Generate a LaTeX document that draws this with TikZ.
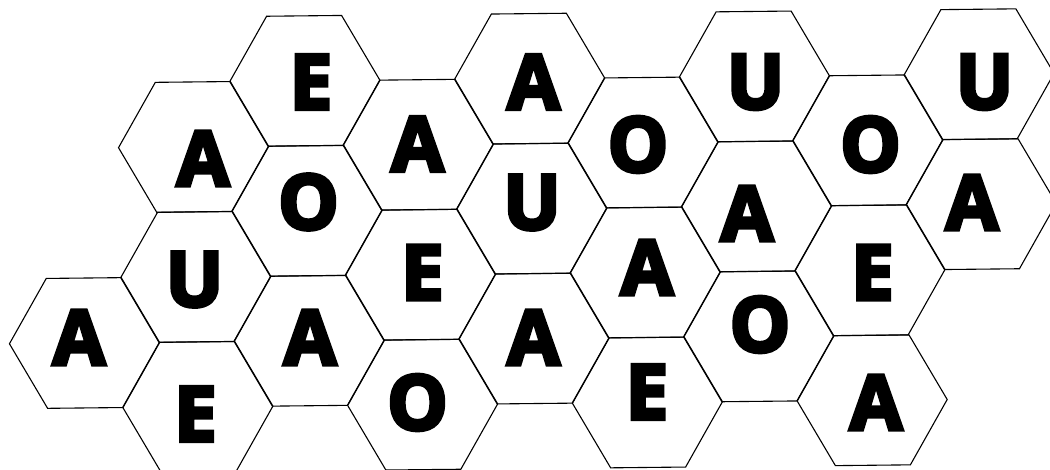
\documentclass[tikz,border=0pt]{standalone}
\usepackage{fontspec}
\newfontfamily\hexfont{Open Sans}[BoldFeatures={FakeBold=5}]
\tikzset{
  hexline/.style={draw=black, line width=1.1pt, line join=miter},
  letter/.style={inner sep=0pt, font=\hexfont\bfseries\fontsize{76}{76}\selectfont, text=black}
}
\begin{document}
\begin{tikzpicture}[x=1pt,y=1pt]
\useasboundingbox (0,0) rectangle (1050,470);
\clip (0,0) rectangle (1050,470);
\fill[white] (0,0) rectangle (1050,470);
\foreach \c/\m/\t/\lx/\ly in {
  0/4/A/79/337.5,
  1/1/A/203/158.5, 1/3/U/194.5/279.5, 1/5/E/195.5/414,
  2/0/E/311/82, 2/2/O/308.5/202, 2/4/A/310/337.5,
  3/1/A/417.5/144, 3/3/E/422.5/272.5, 3/5/O/417.5/402.5,
  4/0/A/533.5/82, 4/2/U/532/202.5, 4/4/A/533.5/337.5,
  5/1/O/638/144.5, 5/3/A/647/267.5, 5/5/E/647/392,
  6/0/U/755.5/82, 6/2/A/747/213.5, 6/4/O/760/324.5,
  7/1/O/870.5/144.5, 7/3/E/872.5/272.5, 7/5/A/876/402.5,
  8/0/U/984.5/82, 8/2/A/972/202.5}
{
  \pgfmathsetmacro\hy{83-1.1*\c+65*\m}
  \pgfmathsetmacro\hx{82+112.4*\c+0.017*(\hy-200)}
  \draw[hexline, shift={(\hx,470-\hy)}, rotate=0.6]
    (0:75) -- (60:75) -- (120:75) -- (180:75) -- (240:75) -- (300:75) -- cycle;
  \node[letter] (L\c-\m) at (\lx,470-\ly) {\t};
}
\end{tikzpicture}
\end{document}
